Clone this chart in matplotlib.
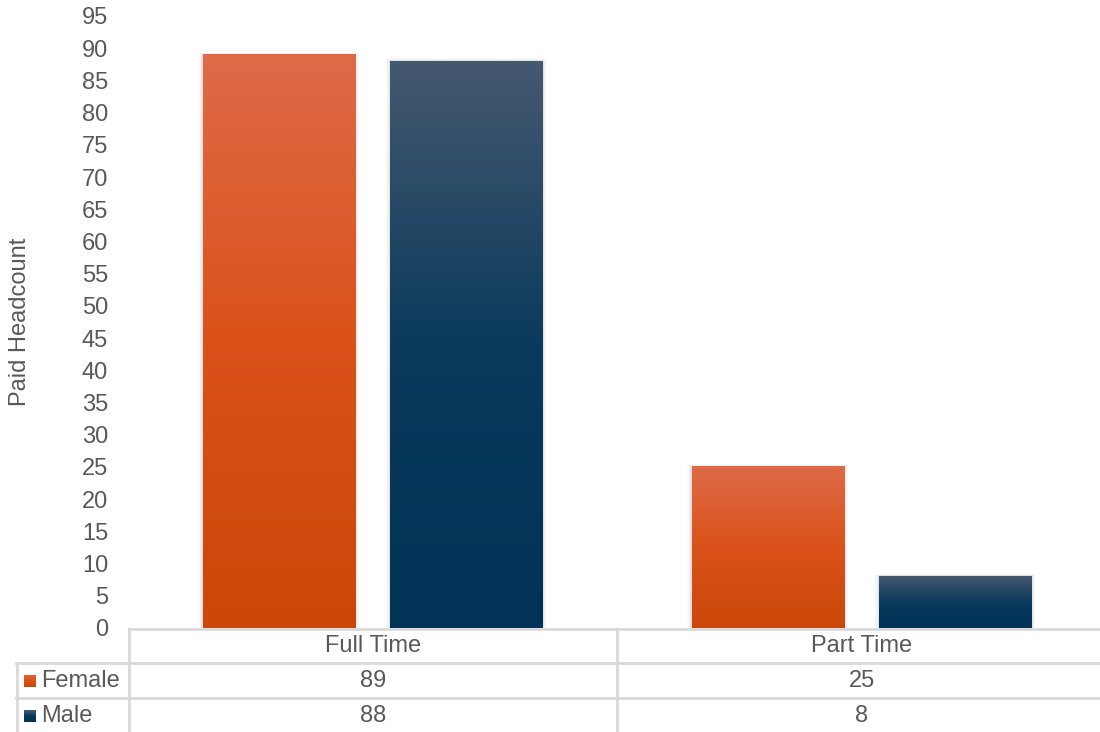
import numpy as np
import matplotlib
matplotlib.use('Agg')
import matplotlib.pyplot as plt
from matplotlib.colors import LinearSegmentedColormap
from matplotlib.patches import Rectangle

plt.rcParams['font.family'] = ['Liberation Sans', 'DejaVu Sans']

# data
categories = ['Full Time', 'Part Time']
series = ['Female', 'Male']
female = [89, 25]
male = [88, 8]
yticks = list(range(0, 100, 5))

text_col = '#595959'
grid_col = '#D9D9D9'
fs = 17
fem_cmap = LinearSegmentedColormap.from_list('fem', ['#CB4709', '#DA5219', '#DE6A48'])
male_cmap = LinearSegmentedColormap.from_list('male', ['#003356', '#0A3A5C', '#45596F'])

W, H = 1100, 732
fig = plt.figure(figsize=(W / 100, H / 100), dpi=100)

# plot area in pixel coordinates of the reference
left, right, top, bottom = 129, 1100, 16, 628
ax = fig.add_axes([left / W, 1 - bottom / H, (right - left) / W, (bottom - top) / H])

width = 0.311
offset = 0.1915
x = np.arange(len(categories))
grad = np.linspace(0, 1, 256).reshape(-1, 1)


def gradient_bar(xc, h, cmap):
    x0 = xc - width / 2
    # soft shadow on the sides
    for i, a in enumerate([0.06, 0.035, 0.02]):
        d = 0.003 * (i + 1)
        ax.add_patch(Rectangle((x0 - d, 0), width + 2 * d, h + 0.15 * (i + 1),
                               color='black', alpha=a, lw=0, zorder=1))
    ax.imshow(grad, cmap=cmap, origin='lower', aspect='auto',
              extent=(x0, x0 + width, 0, h), zorder=2)


for i in range(len(categories)):
    gradient_bar(x[i] - offset, female[i], fem_cmap)
    gradient_bar(x[i] + offset, male[i], male_cmap)

ax.set_xlim(-0.498, 1.488)
ax.set_ylim(0, 95)
ax.set_yticks(yticks)
ax.set_xticks([])
ax.tick_params(axis='y', length=0, labelsize=fs, labelcolor=text_col, pad=15)
for s in ax.spines.values():
    s.set_visible(False)
ax.set_ylabel('Paid Headcount', fontsize=fs, color=text_col)
ax.yaxis.set_label_coords(-0.101, 0.5)


# data table drawn below the axis
def px(xp, yp):
    return xp / W, 1 - yp / H


def hline(yp, x0, x1):
    fig.add_artist(plt.Line2D([x0 / W, x1 / W], [1 - yp / H, 1 - yp / H],
                              color=grid_col, lw=2, zorder=0))


def vline(xp, y0, y1):
    fig.add_artist(plt.Line2D([xp / W, xp / W], [1 - y0 / H, 1 - y1 / H],
                              color=grid_col, lw=2, zorder=0))


hline(629, left, W)
hline(663, 16, W)
hline(698, 16, W)
vline(129, 629, H)
vline(617, 629, H)
vline(17, 663, H)

row_y = [646, 681, 716]
col_x = [373, 862]
for j, c in enumerate(categories):
    fig.text(*px(col_x[j], row_y[0]), c, ha='center', va='center',
             fontsize=fs, color=text_col)
for j in range(len(categories)):
    fig.text(*px(col_x[j], row_y[1]), str(female[j]), ha='center', va='center',
             fontsize=fs, color=text_col)
    fig.text(*px(col_x[j], row_y[2]), str(male[j]), ha='center', va='center',
             fontsize=fs, color=text_col)

# legend keys in the table
for k, (name, cmap) in enumerate([(series[0], fem_cmap), (series[1], male_cmap)]):
    yc = row_y[k + 1]
    kax = fig.add_axes([24 / W, 1 - (yc + 6) / H, 12 / W, 12 / H])
    kax.imshow(grad, cmap=cmap, origin='lower', aspect='auto')
    kax.axis('off')
    fig.text(*px(41, yc), name, ha='left', va='center', fontsize=fs, color=text_col)

fig.savefig('out.png', dpi=100)
